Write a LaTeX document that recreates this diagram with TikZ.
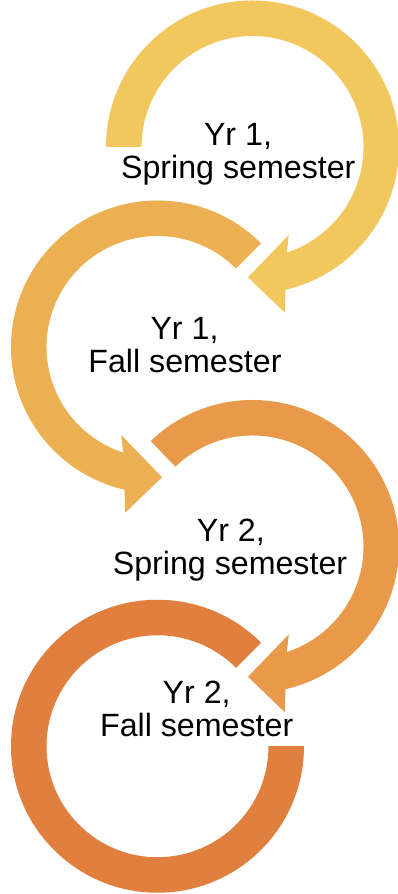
\documentclass[tikz,border=0pt]{standalone}
\usepackage{fontspec}
\setmainfont{Liberation Sans}
\definecolor{cA}{HTML}{F2C75E}
\definecolor{cB}{HTML}{ECB052}
\definecolor{cC}{HTML}{E8994A}
\definecolor{cD}{HTML}{E07F3E}
\tikzset{
  lbl/.style={anchor=base, inner sep=0pt, font=\fontsize{32.2}{33}\selectfont, text=black},
}
% ring from start angle #1 clockwise to the arrow head at the bottom
\newcommand\cyclearrowpath[1]{%
  (#1:146.5) arc[start angle=#1, end angle=-77, radius=146.5]
  -- (32.3,-165.7) -- (-4.5,-130.3) -- (36.3,-88)
  -- (-72:111) arc[start angle=-72, end angle=#1, radius=111] -- cycle}
\begin{document}
\begin{tikzpicture}[x=1pt,y=1pt]
\useasboundingbox (0,0) rectangle (397,894);
\fill[white] (0,0) rectangle (397,894);
% arrow 1
\begin{scope}[shift={(252.5,747)}]
  \fill[cA] \cyclearrowpath{180};
\end{scope}
% arrow 2 (mirrored)
\begin{scope}[shift={(157.5,547)}, xscale=-1]
  \fill[cB] \cyclearrowpath{135};
\end{scope}
% arrow 3
\begin{scope}[shift={(252.5,347.5)}]
  \fill[cC] \cyclearrowpath{134};
\end{scope}
% arrow 4 (open ring, no head)
\begin{scope}[shift={(157.5,147.75)}]
  \fill[cD] (45:146.5) arc[start angle=45, end angle=360, radius=146.5]
    -- (0:111) arc[start angle=360, end angle=45, radius=111] -- cycle;
\end{scope}
% labels
\node[lbl] (t1a) at (238,748.3) {Yr 1,};
\node[lbl] (t1b) at (238.3,715.7) {Spring semester};
\node[lbl] (t2a) at (184.5,554.7) {Yr 1,};
\node[lbl] (t2b) at (185,521.3) {Fall semester};
\node[lbl] (t3a) at (230.8,352.3) {Yr 2,};
\node[lbl] (t3b) at (230,319) {Spring semester};
\node[lbl] (t4a) at (196.7,190.7) {Yr 2,};
\node[lbl] (t4b) at (196.7,157.3) {Fall semester};
\end{tikzpicture}
\end{document}
